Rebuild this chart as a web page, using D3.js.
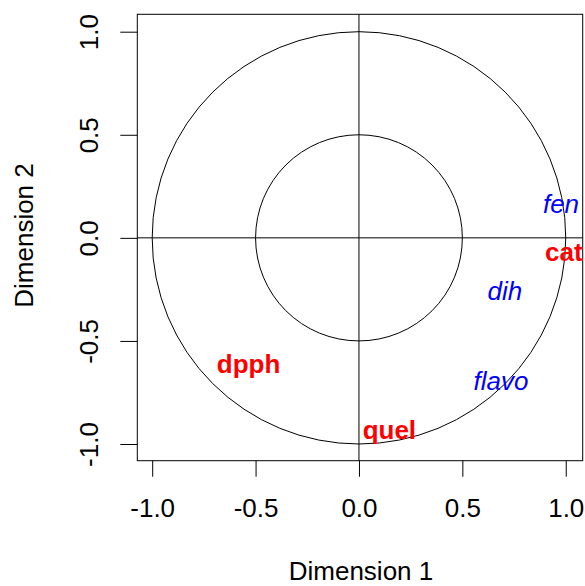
<!DOCTYPE html>
<html>
<head>
<meta charset="utf-8">
<script src="https://cdn.jsdelivr.net/npm/d3@7"></script>
<style>
  html, body { margin: 0; padding: 0; background: #fff; }
  svg { display: block; font-family: "Liberation Sans", Arial, sans-serif; }
</style>
</head>
<body>
<svg id="chart" width="585" height="586"></svg>
<script>
// ---- data ----
const varNames = ["fen", "cat", "dih", "flavo", "dpph", "quel"];
const dim1 = [0.977, 0.991, 0.706, 0.687, -0.534, 0.147];
const dim2 = [0.163, -0.069, -0.258, -0.695, -0.612, -0.933];
const varGroup = ["sup", "act", "sup", "sup", "act", "act"];
const tickValues = [-1, -0.5, 0, 0.5, 1];
const circleRadii = [1, 0.5];
const xTitle = "Dimension 1";
const yTitle = "Dimension 2";

(function () {
// ---- layout ----
const svg = d3.select("#chart");
const pL = 137.3, pR = 582.7, pT = 14.3, pB = 460.7;
const x = d3.scaleLinear().domain([-1.072, 1.082]).range([pL, pR]);
const y = d3.scaleLinear().domain([-1.081, 1.0844]).range([pB, pT]);
const color = d3.scaleOrdinal().domain(["act", "sup"]).range(["#FF0000", "#0000FF"]);
const fs = 26;
const fmt = d => d.toFixed(1);

// circles
svg.append("g").selectAll("ellipse").data(circleRadii).join("ellipse")
  .attr("cx", x(0)).attr("cy", y(0))
  .attr("rx", r => x(r) - x(0)).attr("ry", r => y(0) - y(r))
  .attr("fill", "none").attr("stroke", "#000").attr("stroke-width", 1);

// cross lines
svg.append("line").attr("x1", pL).attr("x2", pR).attr("y1", y(0)).attr("y2", y(0))
  .attr("stroke", "#000").attr("stroke-width", 1);
svg.append("line").attr("x1", x(0)).attr("x2", x(0)).attr("y1", pT).attr("y2", pB)
  .attr("stroke", "#000").attr("stroke-width", 1);

// box
svg.append("rect").attr("x", pL).attr("y", pT)
  .attr("width", pR - pL).attr("height", pB - pT)
  .attr("fill", "none").attr("stroke", "#000").attr("stroke-width", 1);

// x axis
const gx = svg.append("g").attr("transform", `translate(0,${pB})`)
  .call(d3.axisBottom(x).tickValues(tickValues).tickFormat(fmt).tickSize(16).tickSizeOuter(0).tickPadding(21.6));
gx.select(".domain").remove();
gx.selectAll("line").attr("stroke", "#000");
gx.selectAll("text").attr("font-size", fs).attr("fill", "#000")
  .attr("font-family", "Liberation Sans, Arial, sans-serif");

// y axis
const gy = svg.append("g").attr("transform", `translate(${pL},0)`)
  .call(d3.axisLeft(y).tickValues(tickValues).tickFormat(fmt).tickSize(17).tickSizeOuter(0));
gy.select(".domain").remove();
gy.selectAll("line").attr("stroke", "#000");
gy.selectAll("text")
  .attr("x", null).attr("dy", null)
  .attr("text-anchor", "middle")
  .attr("transform", "translate(-39.3,0) rotate(-90)")
  .attr("font-size", fs).attr("fill", "#000")
  .attr("font-family", "Liberation Sans, Arial, sans-serif");

// axis titles
svg.append("text").attr("x", (pL + pR) / 2 + 1).attr("y", 580)
  .attr("text-anchor", "middle").attr("font-size", fs).text(xTitle);
svg.append("text").attr("transform", `translate(33,${(pT + pB) / 2 - 2}) rotate(-90)`)
  .attr("text-anchor", "middle").attr("font-size", fs).text(yTitle);

// variable labels
svg.append("g").selectAll("text").data(varNames).join("text")
  .attr("x", (d, i) => x(dim1[i]))
  .attr("y", (d, i) => y(dim2[i]))
  .attr("dy", "0.35em")
  .attr("text-anchor", "middle")
  .attr("font-size", fs)
  .attr("font-weight", (d, i) => varGroup[i] === "act" ? "bold" : "normal")
  .attr("font-style", (d, i) => varGroup[i] === "sup" ? "italic" : "normal")
  .attr("fill", (d, i) => color(varGroup[i]))
  .text(d => d);
})();
</script>
</body>
</html>
